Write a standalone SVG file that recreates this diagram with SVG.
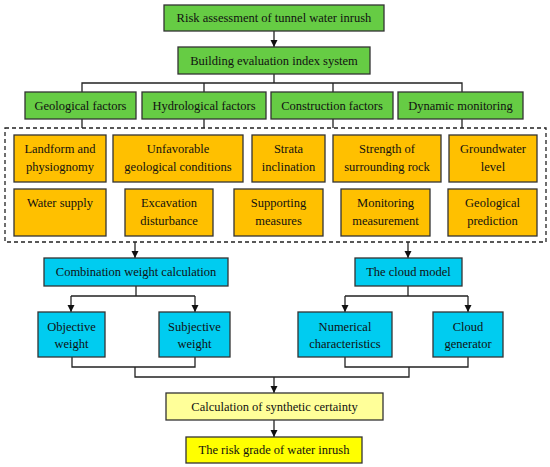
<svg xmlns="http://www.w3.org/2000/svg" width="550" height="467" viewBox="0 0 550 467">
<defs>
<marker id="ah" markerWidth="8" markerHeight="8" refX="7" refY="4" orient="auto" markerUnits="userSpaceOnUse">
<path d="M0,0.5 L7,4 L0,7.5 Z" fill="#111"/>
</marker>
<style>
rect{stroke:#333;stroke-width:1.3}
.g{fill:#66CC44}
.o{fill:#FFC000}
.c{fill:#00CCF0}
.y1{fill:#FFFF99}
.y2{fill:#FFFF00}
text{font-family:"Liberation Serif","DejaVu Serif",serif;font-size:12.5px;fill:#111;text-anchor:middle}
.ln{fill:none;stroke:#222;stroke-width:1.3}
.ar{fill:none;stroke:#222;stroke-width:1.3;marker-end:url(#ah)}
</style>
</defs>
<rect width="550" height="467" fill="#fff" style="stroke:none"/>
<g id="connectors">
<line class="ar" x1="274" y1="31" x2="274" y2="47"/>
<path class="ln" d="M274,74 V83 M82,92 V83 H462 V92 M204,83 V92 M333,83 V92"/>
<path class="ln" d="M82,119 V128 M204,119 V128 M333,119 V128 M462,119 V128"/>
<rect x="5" y="128" width="541" height="114" fill="none" style="stroke:#222;stroke-width:1.3;stroke-dasharray:4,3"/>
<line class="ar" x1="135" y1="242" x2="135" y2="258"/>
<line class="ar" x1="408" y1="242" x2="408" y2="258"/>
<path class="ln" d="M136,286 V296 H71 M136,296 H195"/>
<line class="ar" x1="71" y1="296" x2="71" y2="312"/>
<line class="ar" x1="195" y1="296" x2="195" y2="312"/>
<path class="ln" d="M408,286 V296 H345 M408,296 H468"/>
<line class="ar" x1="345" y1="296" x2="345" y2="312"/>
<line class="ar" x1="468" y1="296" x2="468" y2="312"/>
<path class="ln" d="M72,357 V367 H195 V357 M135,367 V377 H409 V367 M345,357 V367 H468 V357"/>
<line class="ar" x1="274" y1="377" x2="274" y2="393"/>
<line class="ar" x1="274" y1="420" x2="274" y2="437"/>
</g>
<g id="n-risk"><rect class="g" x="164" y="5" width="220" height="26"/><text x="274" y="22">Risk assessment of tunnel water inrush</text></g>
<g id="n-building"><rect class="g" x="178" y="47" width="192" height="27"/><text x="274" y="65">Building evaluation index system</text></g>
<g id="n-geo"><rect class="g" x="25" y="92" width="111" height="27"/><text x="80.5" y="110">Geological factors</text></g>
<g id="n-hydro"><rect class="g" x="142" y="92" width="124" height="27"/><text x="204" y="110">Hydrological factors</text></g>
<g id="n-cons"><rect class="g" x="271" y="92" width="122" height="27"/><text x="332" y="110">Construction factors</text></g>
<g id="n-dyn"><rect class="g" x="398" y="92" width="125" height="27"/><text x="460.5" y="110">Dynamic monitoring</text></g>
<g id="n-landform"><rect class="o" x="14" y="135" width="92" height="47"/><text x="60" y="153">Landform and</text><text x="60" y="171">physiognomy</text></g>
<g id="n-unfav"><rect class="o" x="113" y="135" width="130" height="47"/><text x="178" y="153">Unfavorable</text><text x="178" y="171">geological conditions</text></g>
<g id="n-strata"><rect class="o" x="252" y="135" width="73" height="47"/><text x="288.5" y="153">Strata</text><text x="288.5" y="171">inclination</text></g>
<g id="n-strength"><rect class="o" x="333" y="135" width="108" height="47"/><text x="387" y="153">Strength of</text><text x="387" y="171">surrounding rock</text></g>
<g id="n-gwl"><rect class="o" x="449" y="135" width="88" height="47"/><text x="493" y="153">Groundwater</text><text x="493" y="171">level</text></g>
<g id="n-water"><rect class="o" x="14" y="189" width="92" height="47"/><text x="60" y="207">Water supply</text></g>
<g id="n-excav"><rect class="o" x="125" y="189" width="88" height="47"/><text x="169" y="207">Excavation</text><text x="169" y="225">disturbance</text></g>
<g id="n-support"><rect class="o" x="234" y="189" width="89" height="47"/><text x="278.5" y="207">Supporting</text><text x="278.5" y="225">measures</text></g>
<g id="n-monitor"><rect class="o" x="341" y="189" width="89" height="47"/><text x="385.5" y="207">Monitoring</text><text x="385.5" y="225">measurement</text></g>
<g id="n-geopred"><rect class="o" x="448" y="189" width="89" height="47"/><text x="492.5" y="207">Geological</text><text x="492.5" y="225">prediction</text></g>
<g id="n-comb"><rect class="c" x="44" y="258" width="184" height="28"/><text x="136" y="276">Combination weight calculation</text></g>
<g id="n-cloud"><rect class="c" x="355" y="258" width="107" height="28"/><text x="408.5" y="276">The cloud model</text></g>
<g id="n-obj"><rect class="c" x="38" y="312" width="67" height="45"/><text x="71.5" y="331">Objective</text><text x="71.5" y="348">weight</text></g>
<g id="n-subj"><rect class="c" x="159" y="312" width="71" height="45"/><text x="194.5" y="331">Subjective</text><text x="194.5" y="348">weight</text></g>
<g id="n-num"><rect class="c" x="298" y="312" width="94" height="45"/><text x="345" y="331">Numerical</text><text x="345" y="348">characteristics</text></g>
<g id="n-gen"><rect class="c" x="433" y="312" width="70" height="45"/><text x="468" y="331">Cloud</text><text x="468" y="348">generator</text></g>
<g id="n-calc"><rect class="y1" x="166" y="393" width="217" height="27"/><text x="274.5" y="411">Calculation of synthetic certainty</text></g>
<g id="n-grade"><rect class="y2" x="186" y="437" width="176" height="26"/><text x="274" y="454">The risk grade of water inrush</text></g>
</svg>
